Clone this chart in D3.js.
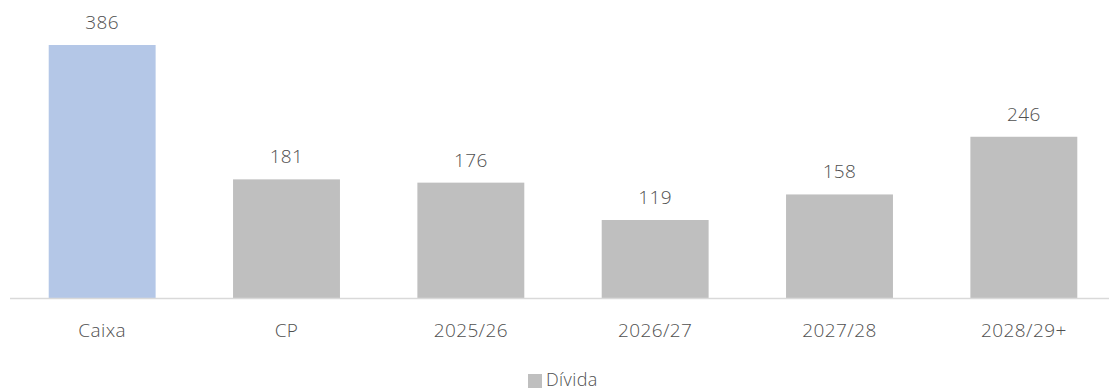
<!DOCTYPE html>
<html>
<head>
<meta charset="utf-8">
<script src="https://cdn.jsdelivr.net/npm/d3@7"></script>
<style>
  body { margin: 0; background: #fff; }
  text { font-family: "Open Sans", sans-serif; font-weight: 300; fill: #505050; letter-spacing: 0.4px; }
</style>
</head>
<body>
<svg id="chart" width="1109" height="391"></svg>
<script>
var categories = ["Caixa", "CP", "2025/26", "2026/27", "2027/28", "2028/29+"]
var values = [386, 181, 176, 119, 158, 246]
var barColors = ["#B4C7E7", "#BFBFBF", "#BFBFBF", "#BFBFBF", "#BFBFBF", "#BFBFBF"]
var seriesName = "Dívida"

var svg = d3.select("#chart")

var x = d3.scaleBand()
  .domain(categories)
  .range([10, 1116])
  .paddingInner(0.42)
  .paddingOuter(0.21)

var y = d3.scaleLinear()
  .domain([0, 386])
  .range([298, 45])

// bars
svg.append("g")
  .selectAll("rect")
  .data(values)
  .enter()
  .append("rect")
  .attr("x", function(d, i) { return x(categories[i]) })
  .attr("y", function(d) { return y(d) })
  .attr("width", x.bandwidth())
  .attr("height", function(d) { return y(0) - y(d) })
  .attr("fill", function(d, i) { return barColors[i] })

// axis line
svg.append("line")
  .attr("x1", 10)
  .attr("x2", 1109)
  .attr("y1", y(0) + 0.5)
  .attr("y2", y(0) + 0.5)
  .attr("stroke", "#D9D9D9")
  .attr("stroke-width", 1.5)

// value labels
svg.append("g")
  .selectAll("text")
  .data(values)
  .enter()
  .append("text")
  .attr("x", function(d, i) { return x(categories[i]) + x.bandwidth() / 2 })
  .attr("y", function(d) { return y(d) - 16 })
  .attr("text-anchor", "middle")
  .attr("font-size", 19)
  .text(function(d) { return d })

// category labels
svg.append("g")
  .selectAll("text")
  .data(categories)
  .enter()
  .append("text")
  .attr("x", function(d) { return x(d) + x.bandwidth() / 2 })
  .attr("y", 337)
  .attr("text-anchor", "middle")
  .attr("font-size", 19)
  .text(function(d) { return d })

// legend
var legend = svg.append("g")
legend.append("rect")
  .attr("x", 528)
  .attr("y", 374)
  .attr("width", 14)
  .attr("height", 14)
  .attr("fill", "#BFBFBF")
legend.append("text")
  .attr("x", 546)
  .attr("y", 386)
  .attr("font-size", 18)
  .text(seriesName)
</script>
</body>
</html>
